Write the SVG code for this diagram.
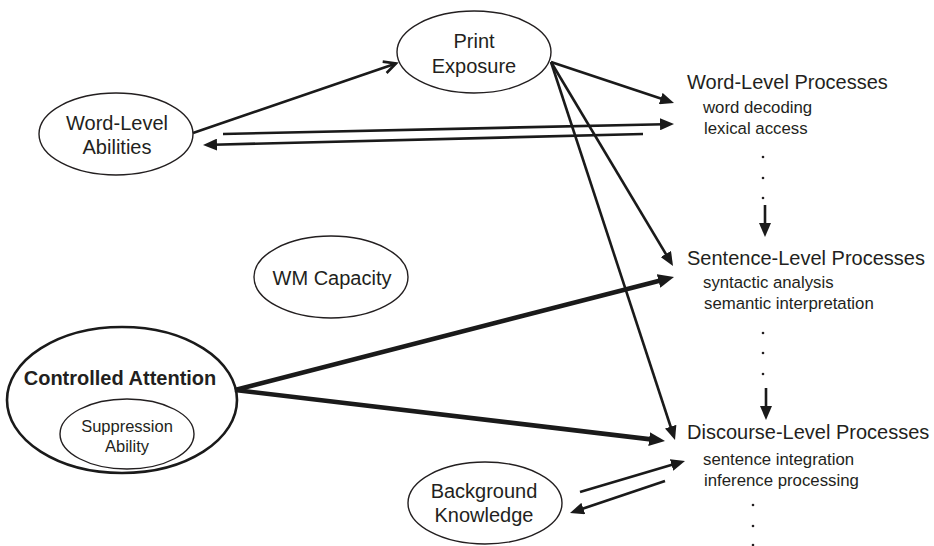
<svg xmlns="http://www.w3.org/2000/svg" width="934" height="546" viewBox="0 0 934 546">
<style>
text{font-family:"Liberation Sans",Arial,sans-serif;fill:#231f20}
.nt{font-size:20px;text-anchor:middle}
.hd{font-size:20px}
.sb{font-size:16.8px}
.el{fill:none;stroke:#231f20;stroke-width:1.4}
.ln{stroke:#1a1a1a;stroke-width:2.6;fill:none}
.tk{stroke:#1a1a1a;stroke-width:4.6;fill:none}
.dot{fill:#231f20}
</style>
<defs>
<marker id="ah" markerUnits="userSpaceOnUse" markerWidth="14" markerHeight="12" refX="4" refY="6" orient="auto"><path d="M0,0 L14,6 L0,12 z" fill="#1a1a1a"/></marker>
<marker id="ahT" markerUnits="userSpaceOnUse" markerWidth="16" markerHeight="14" refX="4" refY="7" orient="auto"><path d="M0,0 L16,7 L0,14 z" fill="#1a1a1a"/></marker>
<marker id="ao" markerUnits="userSpaceOnUse" markerWidth="14" markerHeight="14" refX="12" refY="6" orient="auto" overflow="visible"><path d="M0,0 L12,6 L0,12" fill="none" stroke="#1a1a1a" stroke-width="2.6"/></marker>
</defs>
<g id="connectors">
<line class="ln" x1="193" y1="133" x2="396" y2="63.4" marker-end="url(#ao)"/>
<line class="ln" x1="551" y1="62" x2="664.5" y2="99.8" marker-end="url(#ah)"/>
<line class="ln" x1="223" y1="134" x2="664" y2="124.2" marker-end="url(#ah)"/>
<line class="ln" x1="643" y1="134" x2="213" y2="144.75" marker-end="url(#ah)"/>
<line class="ln" x1="551" y1="62" x2="667.9" y2="257.4" marker-end="url(#ah)"/>
<line class="ln" x1="551" y1="62" x2="671.9" y2="430.5" marker-end="url(#ah)"/>
<line class="tk" x1="235" y1="390" x2="662.4" y2="280" marker-end="url(#ahT)"/>
<line class="tk" x1="235" y1="390" x2="653.1" y2="439.6" marker-end="url(#ahT)"/>
<line class="ln" x1="580" y1="492" x2="675.4" y2="463.8" marker-end="url(#ah)"/>
<line class="ln" x1="665" y1="481" x2="579.5" y2="509.8" marker-end="url(#ah)"/>
<line class="ln" x1="765" y1="205" x2="765" y2="227" marker-end="url(#ah)"/>
<line class="ln" x1="766" y1="388" x2="766" y2="410" marker-end="url(#ah)"/>
</g>
<g id="print-exposure">
<ellipse class="el" cx="474" cy="52" rx="77" ry="41"/>
<text class="nt" x="474" y="48">Print</text>
<text class="nt" x="474" y="73">Exposure</text>
</g>
<g id="word-level-abilities">
<ellipse class="el" cx="116" cy="134" rx="77" ry="41"/>
<text class="nt" x="117" y="130">Word-Level</text>
<text class="nt" x="117" y="154">Abilities</text>
</g>
<g id="wm-capacity">
<ellipse class="el" cx="331" cy="277" rx="77" ry="41"/>
<text class="nt" x="332" y="285">WM Capacity</text>
</g>
<g id="controlled-attention">
<ellipse cx="122" cy="400" rx="115" ry="73" fill="none" stroke="#1a1a1a" stroke-width="2.6"/>
<text class="nt" x="120" y="385" font-weight="bold">Controlled Attention</text>
</g>
<g id="suppression-ability">
<ellipse class="el" cx="127" cy="434" rx="67" ry="35"/>
<text x="127" y="432" font-size="16.5" text-anchor="middle">Suppression</text>
<text x="127" y="452" font-size="16.5" text-anchor="middle">Ability</text>
</g>
<g id="background-knowledge">
<ellipse class="el" cx="485" cy="503" rx="77" ry="41"/>
<text class="nt" x="484" y="498">Background</text>
<text class="nt" x="484" y="522">Knowledge</text>
</g>
<g id="word-level-processes">
<text class="hd" x="687" y="89">Word-Level Processes</text>
<text class="sb" x="703" y="113">word decoding</text>
<text class="sb" x="704" y="134">lexical access</text>
<circle class="dot" cx="763" cy="157" r="1.3"/>
<circle class="dot" cx="763" cy="178" r="1.3"/>
<circle class="dot" cx="763" cy="198" r="1.3"/>
</g>
<g id="sentence-level-processes">
<text class="hd" x="687" y="265">Sentence-Level Processes</text>
<text class="sb" x="703" y="288">syntactic analysis</text>
<text class="sb" x="704" y="309">semantic interpretation</text>
<circle class="dot" cx="763" cy="333" r="1.3"/>
<circle class="dot" cx="763" cy="353" r="1.3"/>
<circle class="dot" cx="763" cy="374" r="1.3"/>
</g>
<g id="discourse-level-processes">
<text class="hd" x="687" y="439">Discourse-Level Processes</text>
<text class="sb" x="703" y="465">sentence integration</text>
<text class="sb" x="704" y="486">inference processing</text>
<circle class="dot" cx="753" cy="505" r="1.3"/>
<circle class="dot" cx="753" cy="526" r="1.3"/>
<circle class="dot" cx="753" cy="545" r="1.3"/>
</g>
</svg>
